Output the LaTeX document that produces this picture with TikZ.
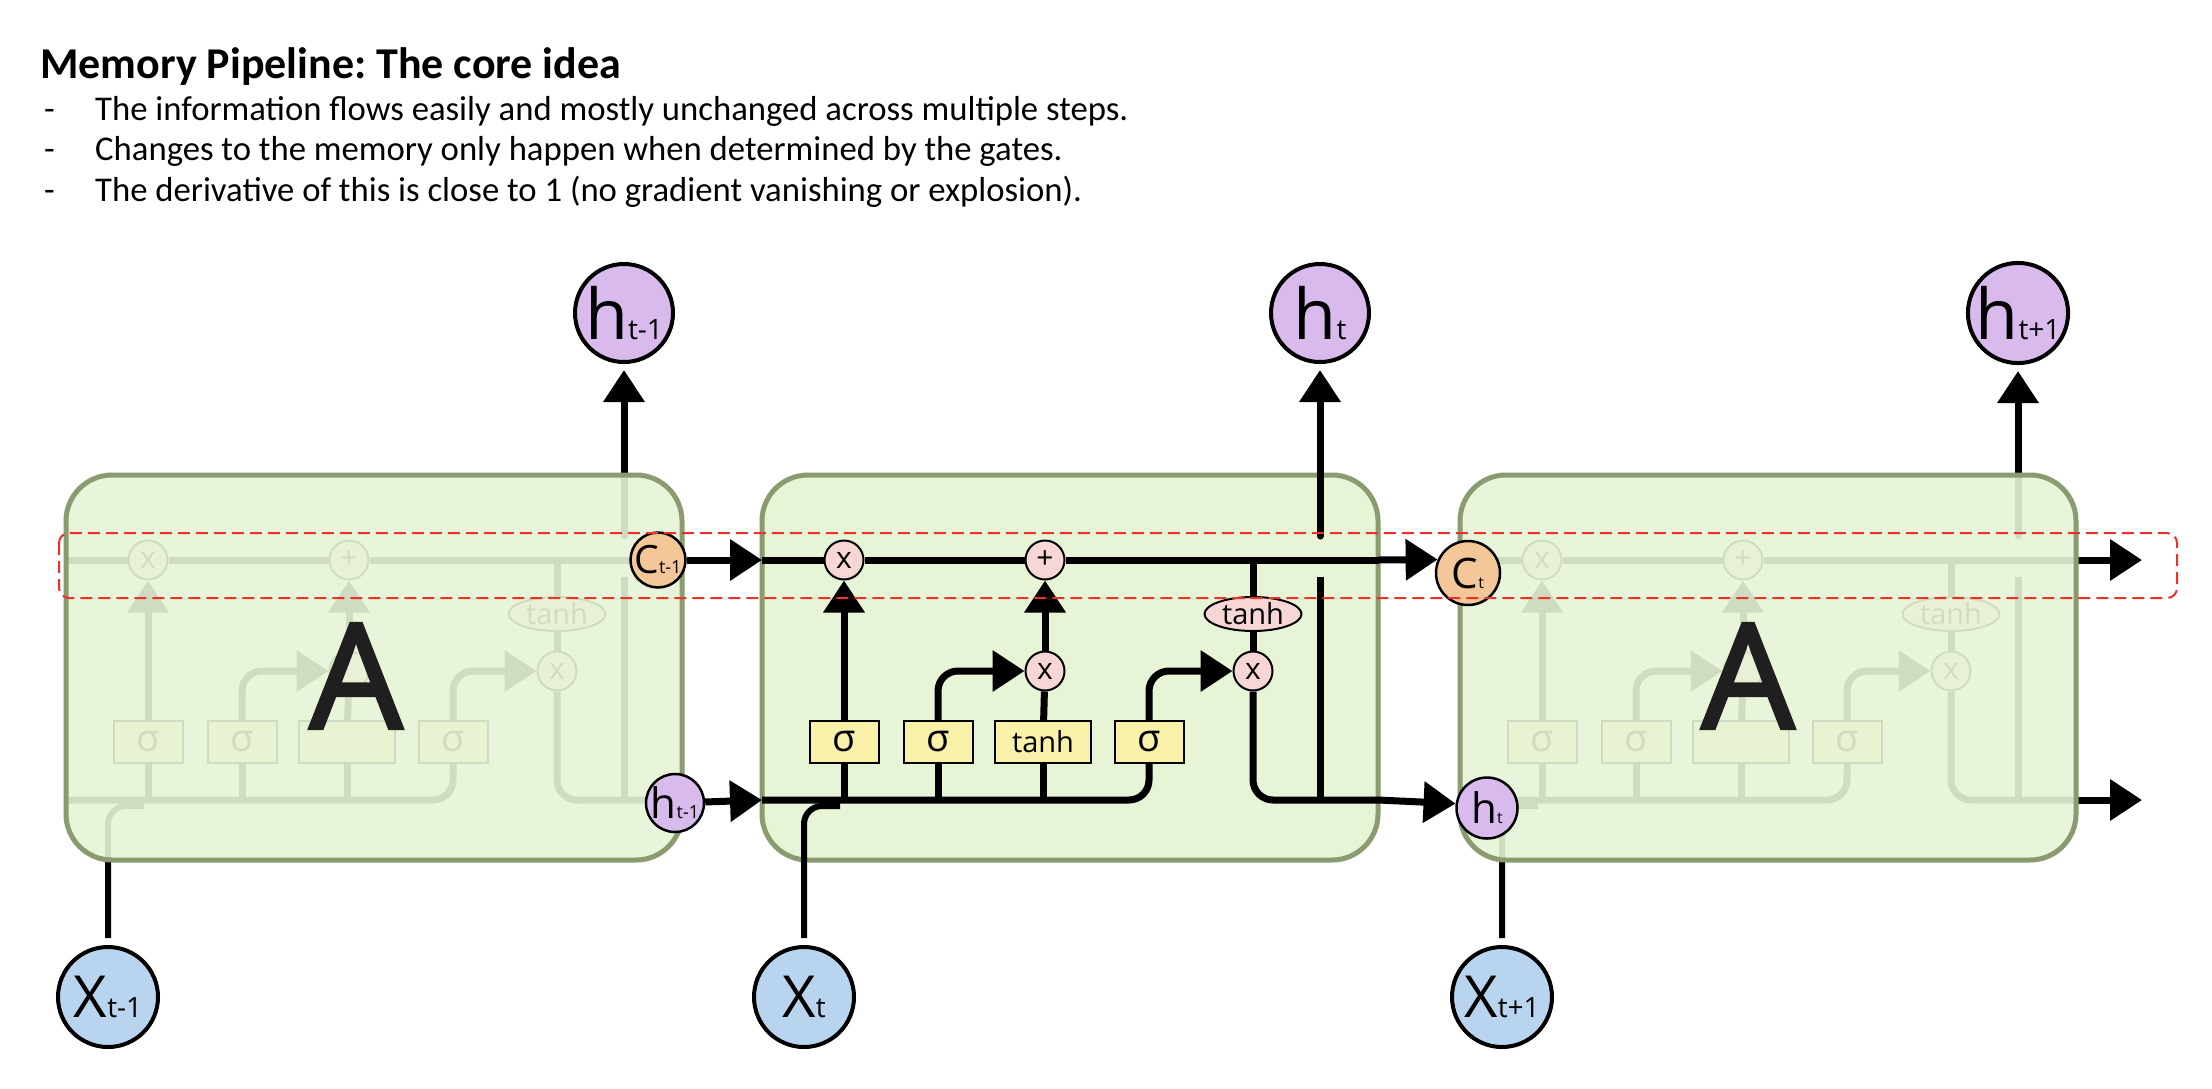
\documentclass[tikz,border=0pt]{standalone}
\usepackage{fontspec}
\setmainfont{Carlito}
\newfontfamily\dgf{Open Sans}
\newfontfamily\afont[FakeBold=2.5]{Open Sans}
\usetikzlibrary{arrows.meta,shapes.geometric}
\frenchspacing

\definecolor{boxfill}{HTML}{E7F5D6}
\definecolor{boxedge}{HTML}{8A9B70}
\definecolor{pinkc}{HTML}{F7D6D6}
\definecolor{yellowc}{HTML}{F9F0AA}
\definecolor{hcol}{HTML}{D8BAEC}
\definecolor{ccol}{HTML}{F4C799}
\definecolor{xcol}{HTML}{B8D4EE}
\definecolor{redd}{HTML}{EB3228}

\newcommand\fs[1]{\fontsize{#1}{#1}\selectfont}

\tikzset{
  wire/.style={line width=7pt},
  xwire/.style={line width=6pt},
  arr/.style={line width=7pt, -{Triangle[length=32pt,width=40pt]}},
  cellbox/.style={draw=boxedge, line width=5pt, fill=boxfill, rounded corners=46pt, minimum width=616pt, minimum height=385pt, inner sep=0pt},
  opnode/.style={circle, draw=black, line width=2pt, fill=pinkc, minimum size=39pt, inner sep=0pt, font=\dgf\fs{30}},
  gatebox/.style={rectangle, draw=black, line width=2pt, fill=yellowc, minimum height=42pt, minimum width=69pt, inner sep=0pt, font=\dgf\fs{38}},
  tanhbox/.style={gatebox, minimum width=96pt, font=\dgf\fs{29}},
  tanhell/.style={ellipse, draw=black, line width=2pt, fill=pinkc, minimum width=97pt, minimum height=34pt, inner sep=0pt, font=\dgf\fs{29}},
  hbig/.style={circle, draw=black, line width=4pt, fill=hcol, minimum size=98pt, inner sep=0pt, font=\dgf},
  xbig/.style={circle, draw=black, line width=4pt, fill=xcol, minimum size=100pt, inner sep=0pt, font=\dgf},
  hsmall/.style={circle, draw=black, line width=2.5pt, fill=hcol, inner sep=0pt, font=\dgf},
  csmall/.style={circle, draw=black, line width=2.5pt, fill=ccol, inner sep=0pt, font=\dgf},
  bigA/.style={font=\afont\fs{146}, text=black!88, inner sep=0pt},
  reddash/.style={draw=redd, line width=2pt, dash pattern=on 12pt off 6pt, rounded corners=10pt},
  txt/.style={anchor=base west, inner sep=0pt},
}

% #1 x shift, #2 suffix, #3 x label, #4 h label, #5 tanh box text, #6 text of the input-gate product
\newcommand\lstmparts[6]{%
\begin{scope}[shift={(#1,0)}]
  \coordinate (cin#2) at (0,560);
  \coordinate (cout#2) at (616,560);
  \coordinate (hin#2) at (0,800);
  \coordinate (hout#2) at (616,800);
  \coordinate (tap#2) at (491,560);
  \coordinate (vtop#2) at (558,536);
  \coordinate (vbot#2) at (558,577);
  \coordinate (vmeet#2) at (558,800);
  \coordinate (xj#2) at (78,806);
  \node[xbig] (X#2) at (42,997) {#3};
  \node[hbig] (H#2) at (558,313) {#4};
  \node[opnode] (fx#2) at (82,560) {x};
  \node[opnode] (pl#2) at (283,560) {+};
  \node[opnode] (ix#2) at (283,671) {#6};
  \node[opnode] (ox#2) at (491,671) {x};
  \node[tanhell] (te#2) at (491,614) {tanh};
  \node[gatebox] (sa#2) at (82,742) {σ};
  \node[gatebox] (sb#2) at (176,742) {σ};
  \node[tanhbox] (tb#2) at (281,742) {#5};
  \node[gatebox] (sc#2) at (387,742) {σ};
  % cell state line
  \draw[wire] (cin#2) -- (fx#2) -- (pl#2) -- (cout#2);
  % hidden / input line
  \draw[wire, rounded corners=20pt] (hin#2) -| (sc#2);
  \draw[wire] (sa#2) -- (sa#2 |- hin#2);
  \draw[wire] (sb#2) -- (sb#2 |- hin#2);
  \draw[wire] (tb#2) -- (tb#2 |- hin#2);
  \draw[xwire, rounded corners=18pt, shorten <=7pt] (X#2) |- (xj#2);
  % gates
  \draw[arr] (sa#2) -- (fx#2);
  \draw[arr, rounded corners=20pt] (sb#2) |- (ix#2);
  \draw[wire] (tb#2) -- (ix#2);
  \draw[arr] (ix#2) -- (pl#2);
  \draw[arr, rounded corners=20pt] (sc#2) |- (ox#2);
  \draw[wire] (tap#2) -- (te#2);
  \draw[wire] (te#2) -- (ox#2);
  \draw[wire, rounded corners=20pt] (ox#2) |- (hout#2);
  % output to h
  \draw[wire] (vbot#2) -- (vmeet#2);
  \draw[arr, line cap=round, shorten >=6pt] (vtop#2) -- (H#2);
\end{scope}}

\begin{document}
\begin{tikzpicture}[x=1pt,y=-1pt]
\fill[white] (0,0) rectangle (2212,1088);
\useasboundingbox (0,0) rectangle (2212,1088);

% text
\node[txt, font=\fs{44}\bfseries] (title) at (40,78) {Memory Pipeline: The core idea};
\node[txt, font=\fs{34.7}] (d1) at (44,120) {-};
\node[txt, font=\fs{34.7}] (b1) at (95,120) {The information flows easily and mostly unchanged across multiple steps.};
\node[txt, font=\fs{34.7}] (d2) at (44,160) {-};
\node[txt, font=\fs{34.7}] (b2) at (95,160) {Changes to the memory only happen when determined by the gates.};
\node[txt, font=\fs{34.7}] (d3) at (44,201) {-};
\node[txt, font=\fs{34.7}] (b3) at (95,201) {The derivative of this is close to 1 (no gradient vanishing or explosion).};

% left (faded) cell
\lstmparts{66}{L}{\fs{58}X\fs{28}t-1}{\fs{70}h\fs{28}t-1}{}{}
\node[cellbox, fill opacity=0.9] (boxL) at (374,667.5) {};
\node[bigA] (AL) at (356,676) {A};

% middle cell
\node[cellbox] (boxM) at (1070,667.5) {};
\lstmparts{762}{M}{\fs{58}X\fs{28}t}{\fs{70}h\fs{28}t}{tanh}{x}

% right (faded) cell
\coordinate (cend) at (2142,560);
\coordinate (hend) at (2142,800);
\lstmparts{1460}{R}{\fs{58}X\fs{28}t+1}{\fs{70}h\fs{28}t+1}{}{}
\draw[arr] (coutR) -- (cend);
\draw[arr] (houtR) -- (hend);
\node[cellbox, fill opacity=0.9] (boxR) at (1768,667.5) {};
\node[bigA] (AR) at (1748,676) {A};

% state circles between cells
\node[csmall, minimum size=54pt] (cprev) at (658,560) {\fs{39}C\fs{18}t-1};
\node[hsmall, minimum size=58pt] (hprev) at (675,803) {\fs{42}h\fs{18}t-1};
\draw[arr] (cprev) -- (cinM);
\draw[arr] (hprev) -- (hinM);

\node[csmall, minimum size=64pt] (cnow) at (1468,573) {\fs{42}C\fs{16}t};
\node[hsmall, minimum size=61pt] (hnow) at (1487,808) {\fs{42}h\fs{16}t};
\draw[arr] (coutM) -- (cnow.156);
\draw[arr] (houtM) -- (hnow.172);

% memory pipeline highlight
\draw[reddash] (59,533) rectangle (2177,598);
\end{tikzpicture}
\end{document}
